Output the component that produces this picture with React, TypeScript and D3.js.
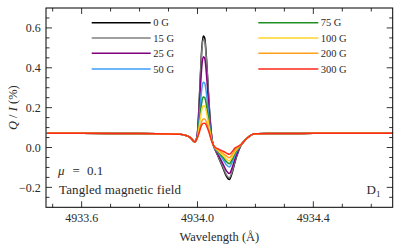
import React from 'react';
import * as d3 from 'd3';

// Q/I profiles of the line for several tangled field strengths
const fieldLabels = ['0 G', '15 G', '25 G', '50 G', '75 G', '100 G', '200 G', '300 G'];
const fieldColors = ['#000000', '#808080', '#800080', '#3d9ef5', '#1f8f22', '#ffd42a', '#ff9f1c', '#ff2a1a'];

// wings are shared by all curves
const wavelengthWingLeft = [4933.48, 4933.6, 4933.8, 4933.9, 4933.94, 4933.96, 4933.97, 4933.98, 4933.985, 4933.99, 4933.995];
const qiWingLeft = [0.072, 0.071, 0.070, 0.068, 0.066, 0.060, 0.055, 0.043, 0.034, 0.028, 0.036];
const wavelengthWingRight = [4934.16, 4934.17, 4934.18, 4934.19, 4934.2, 4934.25, 4934.4, 4934.68];
const qiWingRight = [0.030, 0.045, 0.057, 0.066, 0.069, 0.070, 0.071, 0.072];

// line core, one array per field strength
const wavelengthCore = [4934.0, 4934.005, 4934.01, 4934.015, 4934.02, 4934.025, 4934.03, 4934.035, 4934.04, 4934.045, 4934.05, 4934.055, 4934.06, 4934.07, 4934.08, 4934.09, 4934.1, 4934.11, 4934.12, 4934.13, 4934.14, 4934.15];
const qi0G = [0.075, 0.20, 0.36, 0.50, 0.56, 0.55, 0.47, 0.35, 0.22, 0.12, 0.045, 0.010, -0.008, -0.040, -0.075, -0.110, -0.145, -0.161, -0.125, -0.070, -0.025, 0.010];
const qi15G = [0.074, 0.195, 0.349, 0.485, 0.542, 0.533, 0.456, 0.340, 0.214, 0.117, 0.044, 0.010, -0.007, -0.038, -0.071, -0.104, -0.137, -0.152, -0.118, -0.065, -0.023, 0.010];
const qi25G = [0.068, 0.169, 0.296, 0.407, 0.455, 0.447, 0.384, 0.289, 0.185, 0.103, 0.041, 0.010, -0.005, -0.032, -0.060, -0.088, -0.117, -0.131, -0.100, -0.054, -0.018, 0.011];
const qi50G = [0.059, 0.131, 0.220, 0.295, 0.327, 0.323, 0.281, 0.215, 0.143, 0.083, 0.036, 0.011, -0.003, -0.023, -0.044, -0.065, -0.087, -0.098, -0.073, -0.036, -0.010, 0.012];
const qi75G = [0.054, 0.109, 0.175, 0.229, 0.253, 0.250, 0.220, 0.172, 0.119, 0.071, 0.033, 0.011, -0.001, -0.019, -0.036, -0.053, -0.071, -0.081, -0.059, -0.027, -0.005, 0.013];
const qi100G = [0.051, 0.096, 0.148, 0.190, 0.209, 0.208, 0.184, 0.146, 0.104, 0.064, 0.031, 0.012, 0.000, -0.015, -0.029, -0.043, -0.058, -0.067, -0.047, -0.020, -0.002, 0.014];
const qi200G = [0.048, 0.076, 0.108, 0.132, 0.143, 0.143, 0.131, 0.108, 0.082, 0.054, 0.029, 0.012, 0.002, -0.010, -0.021, -0.032, -0.043, -0.051, -0.034, -0.011, 0.002, 0.014];
const qi300G = [0.052, 0.070, 0.095, 0.113, 0.121, 0.122, 0.113, 0.095, 0.075, 0.050, 0.028, 0.012, 0.003, -0.006, -0.013, -0.020, -0.028, -0.034, -0.020, -0.002, 0.006, 0.015];
const coreSeries = [qi0G, qi15G, qi25G, qi50G, qi75G, qi100G, qi200G, qi300G];

const xTickLabels = ['4933.6', '4934.0', '4934.4'];
const yTickLabels = ['\u22120.2', '0.0', '0.2', '0.4', '0.6'];

const W = 403;
const H = 248;
const margin = { top: 8, right: 10.3, bottom: 40.7, left: 46 };
const serif = "'Liberation Serif', 'Times New Roman', serif";
const ink = '#2a2a2a';

const App: React.FC = () => {
  const x = d3.scaleLinear().domain([4933.477, 4934.674]).range([margin.left, W - margin.right]);
  const y = d3.scaleLinear().domain([-0.3, 0.7]).range([H - margin.bottom, margin.top]);
  const [x0, x1] = x.range();
  const [y0, y1] = [y.range()[1], y.range()[0]];

  const line = d3.line<[number, number]>()
    .x(d => x(d[0]))
    .y(d => y(d[1]))
    .curve(d3.curveMonotoneX);

  const paths = coreSeries.map(core => {
    const pts: [number, number][] = [];
    wavelengthWingLeft.forEach((w, i) => pts.push([w, qiWingLeft[i]]));
    wavelengthCore.forEach((w, i) => pts.push([w, core[i]]));
    wavelengthWingRight.forEach((w, i) => pts.push([w, qiWingRight[i]]));
    return line(pts) || '';
  });

  const xMajor = xTickLabels.map(Number);
  const yMajor = yTickLabels.map(t => Number(t.replace('\u2212', '-')));
  const xMinor = d3.range(4933.5, 4934.7, 0.1).filter(v => !xMajor.some(m => Math.abs(m - v) < 1e-6));
  const yMinor = d3.range(-0.25, 0.7, 0.05).filter(v => !yMajor.some(m => Math.abs(m - v) < 1e-6));

  const major = 6;
  const minor = 3.5;

  const legendRows = [22.7, 38, 53.3, 69];
  const legendCols = [
    { lx0: 91.7, lx1: 150.7, tx: 153.3 },
    { lx0: 258.3, lx1: 318.3, tx: 320.7 },
  ];

  const txt = (size: number): React.CSSProperties => ({ fontFamily: serif, fontSize: size, fill: ink });

  return (
    <div style={{ position: 'fixed', left: 0, top: 0 }}>
      <svg width={W} height={H} style={{ display: 'block', background: '#fff' }}>
        <defs>
          <clipPath id="plotClip">
            <rect x={x0} y={y0} width={x1 - x0} height={y1 - y0} />
          </clipPath>
        </defs>

        <g clipPath="url(#plotClip)" fill="none">
          {paths.map((p, i) => (
            <path key={i} d={p} stroke={fieldColors[i]} strokeWidth={1.5} strokeLinejoin="round" />
          ))}
        </g>

        {/* ticks, inward on all sides */}
        <g stroke="#000" strokeWidth={0.8}>
          {xMajor.map(v => (
            <g key={'xM' + v}>
              <line x1={x(v)} x2={x(v)} y1={y1} y2={y1 - major} />
              <line x1={x(v)} x2={x(v)} y1={y0} y2={y0 + major} />
            </g>
          ))}
          {xMinor.map(v => (
            <g key={'xm' + v}>
              <line x1={x(v)} x2={x(v)} y1={y1} y2={y1 - minor} />
              <line x1={x(v)} x2={x(v)} y1={y0} y2={y0 + minor} />
            </g>
          ))}
          {yMajor.map(v => (
            <g key={'yM' + v}>
              <line x1={x0} x2={x0 + major} y1={y(v)} y2={y(v)} />
              <line x1={x1} x2={x1 - major} y1={y(v)} y2={y(v)} />
            </g>
          ))}
          {yMinor.map(v => (
            <g key={'ym' + v}>
              <line x1={x0} x2={x0 + minor} y1={y(v)} y2={y(v)} />
              <line x1={x1} x2={x1 - minor} y1={y(v)} y2={y(v)} />
            </g>
          ))}
        </g>
        <rect x={x0} y={y0} width={x1 - x0} height={y1 - y0} fill="none" stroke="#000" strokeWidth={1} />

        {xTickLabels.map((t, i) => (
          <text key={t} x={x(xMajor[i])} y={y1 + 14.3} textAnchor="middle" style={txt(12)}>{t}</text>
        ))}
        {yTickLabels.map((t, i) => (
          <text key={t} x={x0 - 5.3} y={y(yMajor[i]) + 4.2} textAnchor="end" style={txt(12)}>{t}</text>
        ))}
        <text x={(x0 + x1) / 2} y={240.7} textAnchor="middle" style={txt(12.5)}>Wavelength (Å)</text>
        <text transform={`translate(16.5,${(y0 + y1) / 2}) rotate(-90)`} textAnchor="middle" style={txt(12.5)}>
          <tspan fontStyle="italic">Q</tspan>
          <tspan> / </tspan>
          <tspan fontStyle="italic">I</tspan>
          <tspan> (%)</tspan>
        </text>

        {/* legend */}
        {fieldLabels.map((lab, i) => {
          const col = legendCols[Math.floor(i / 4)];
          const ry = legendRows[i % 4];
          return (
            <g key={lab}>
              <line x1={col.lx0} x2={col.lx1} y1={ry} y2={ry} stroke={fieldColors[i]} strokeWidth={1.5} />
              <text x={col.tx} y={ry + 3.6} style={txt(10.5)}>{lab}</text>
            </g>
          );
        })}

        {/* annotations */}
        <text x={58} y={175} style={txt(13)}>
          <tspan fontStyle="italic">μ</tspan>
          <tspan x={72.5}>=</tspan>
          <tspan x={87}>0.1</tspan>
        </text>
        <text x={59} y={194} textLength={122} style={txt(13)}>Tangled magnetic field</text>
        <text x={366.5} y={194} style={txt(13)}>D<tspan fontSize={9} dy={2.5}>1</tspan></text>
      </svg>
    </div>
  );
};

export default App;
